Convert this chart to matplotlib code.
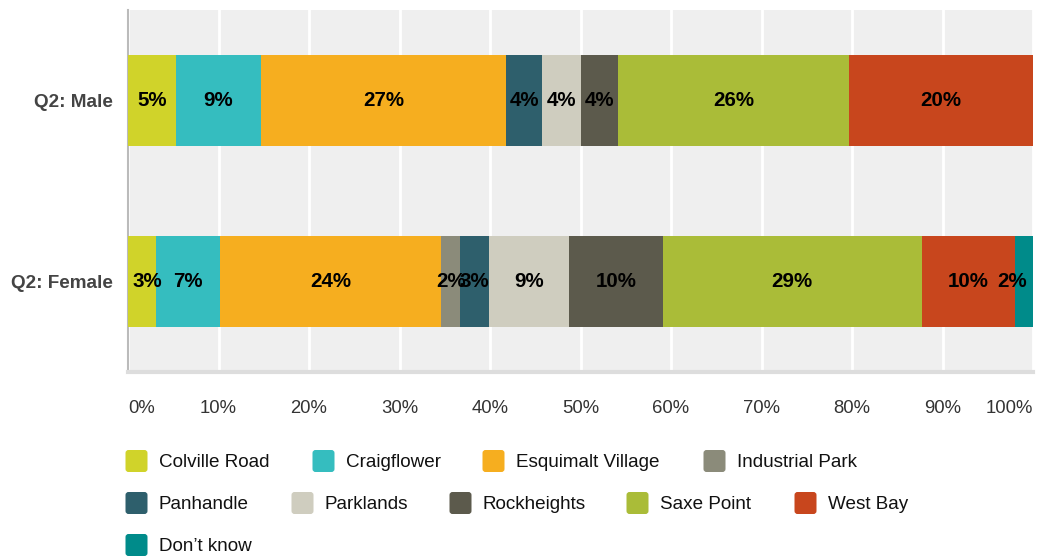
import matplotlib.pyplot as plt
from matplotlib.patches import FancyBboxPatch
import numpy as np

# Data
groups = ['Q2: Male', 'Q2: Female']
areas = ['Colville Road', 'Craigflower', 'Esquimalt Village', 'Industrial Park',
         'Panhandle', 'Parklands', 'Rockheights', 'Saxe Point', 'West Bay', 'Don\u2019t know']
male = [5.3, 9.4, 27.1, 0.0, 4.0, 4.2, 4.1, 25.6, 20.3, 0.0]
female = [3.1, 7.1, 24.4, 2.1, 3.2, 8.8, 10.4, 28.6, 10.3, 2.0]
colors = ['#d0d32a', '#35bdbf', '#f6ae1f', '#8b8b7a', '#2e5f6c',
          '#cfcdbf', '#5c5a4c', '#aabc38', '#c8461d', '#008b8a']
xticks = [0, 10, 20, 30, 40, 50, 60, 70, 80, 90, 100]

plt.rcParams['font.family'] = ['Liberation Sans', 'DejaVu Sans']

W, H = 1037, 559
fig = plt.figure(figsize=(W / 100, H / 100), dpi=100)
ax = fig.add_axes([128 / W, 1 - 372 / H, (1033 - 128) / W, (372 - 10) / H])
ax.set_facecolor('#efefef')

values = np.array([male, female])
left = np.zeros(len(groups))
ypos = np.arange(len(groups))
for i, area in enumerate(areas):
    v = values[:, i]
    ax.barh(ypos, v, left=left, height=0.5, color=colors[i], zorder=3)
    for j in range(len(groups)):
        if v[j] > 0:
            cx = min(max(left[j] + v[j] / 2, 2.1), 97.7)
            ax.text(cx, ypos[j], '%d%%' % int(v[j] + 0.5), ha='center', va='center',
                    fontsize=14.8, fontweight='bold', color='black', zorder=4)
    left += v

ax.set_xlim(0, 100)
ax.set_ylim(1.5, -0.5)
ax.set_yticks(ypos)
ax.set_yticklabels(groups, fontsize=13.6, fontweight='bold', color='#444444')
ax.set_xticks(xticks)
ax.set_xticklabels(['%d%%' % t for t in xticks], fontsize=13.3, color='#333333')
labels = ax.get_xticklabels()
labels[0].set_ha('left')
labels[-1].set_ha('right')
ax.tick_params(axis='both', length=0)
ax.tick_params(axis='x', pad=20)
ax.tick_params(axis='y', pad=11)
ax.grid(axis='x', color='white', linewidth=2, zorder=1)
ax.set_axisbelow(True)
for s in ['top', 'right']:
    ax.spines[s].set_visible(False)
ax.spines['left'].set_color('#bbbbbb')
ax.spines['left'].set_linewidth(1.5)
ax.spines['bottom'].set_color('#dddddd')
ax.spines['bottom'].set_linewidth(3)

# Legend drawn in pixel coordinates
lax = fig.add_axes([0, 0, 1, 1], zorder=-1)
lax.set_xlim(0, W)
lax.set_ylim(H, 0)
lax.axis('off')
leg_x = [125, 312, 482, 703, 125, 291, 449, 626, 794, 125]
leg_y = [461, 461, 461, 461, 503, 503, 503, 503, 503, 545]
for name, c, x, y in zip(areas, colors, leg_x, leg_y):
    lax.add_patch(FancyBboxPatch((x + 2, y - 9.5), 19, 19,
                                 boxstyle='round,pad=1.5,rounding_size=3',
                                 facecolor=c, edgecolor='none'))
    lax.text(x + 34, y + 1.5, name, ha='left', va='center', fontsize=13.6,
             color='#111111')

fig.savefig('out.png', dpi=100)
